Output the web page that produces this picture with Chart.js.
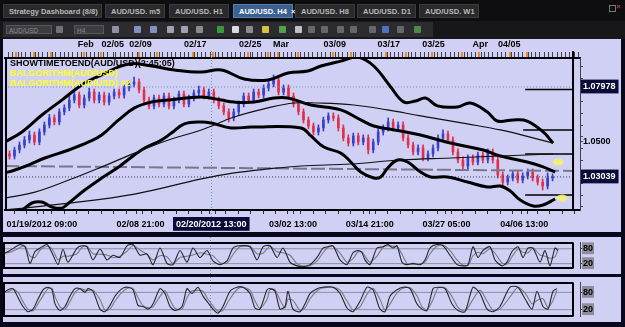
<!DOCTYPE html>
<html><head><meta charset="utf-8">
<script src="https://cdn.jsdelivr.net/npm/chart.js@4.4.1/dist/chart.umd.min.js"></script>
<style>
html,body{margin:0;padding:0;}
body{width:625px;height:327px;overflow:hidden;position:relative;background:#08081a;font-family:"Liberation Sans",Arial,sans-serif;}
#tabs{position:absolute;left:0;top:0;width:625px;height:21px;background:#0e0e10;}
.tab{position:absolute;top:4px;height:14px;background:#2a2a2d;color:#b8b8b8;font-size:7.5px;font-weight:bold;line-height:14px;box-sizing:border-box;padding-left:5px;white-space:nowrap;border:1px solid #3b3b3e;}
.tab.active{background:#3b6190;color:#fff;border-color:#5a80b0;}
#toolbar{position:absolute;left:0;top:21px;width:625px;height:18px;background:#17171a;}
#tstrip{position:absolute;left:3px;top:1px;width:430px;height:15px;background:#2c2c30;}
.sel{position:absolute;top:3px;height:9px;background:#3c3c42;border:1px solid #56565c;color:#8a8a90;font-size:6.5px;line-height:9px;padding-left:2px;box-sizing:border-box;}
.ic{position:absolute;top:4px;width:7px;height:7px;border-radius:1px;}
.lav{position:absolute;background:#d0d0f5;}
canvas{position:absolute;}
.ov{position:absolute;font-size:9px;font-weight:bold;white-space:nowrap;line-height:10px;}
</style></head>
<body>
<div id="tabs">
  <div class="tab" style="left:3px;width:99px">Strategy Dashboard (8/8)</div>
  <div class="tab" style="left:105px;width:60px">AUD/USD. m5</div>
  <div class="tab" style="left:169px;width:60px">AUD/USD. H1</div>
  <div class="tab active" style="left:233px;width:60px">AUD/USD. H4 &nbsp;×</div>
  <div class="tab" style="left:295px;width:60px">AUD/USD. H8</div>
  <div class="tab" style="left:357px;width:59px">AUD/USD. D1</div>
  <div class="tab" style="left:419px;width:60px">AUD/USD. W1</div>
  <div style="position:absolute;left:609px;top:5px;width:5px;height:5px;border:1px solid #777"></div>
  <div style="position:absolute;left:616px;top:2px;color:#c03030;font-size:8px;font-weight:bold">×</div>
</div>
<div id="toolbar"><div id="tstrip">
  <div class="sel" style="left:3px;width:46px">AUD/USD</div>
  <div class="ic" style="left:53px;background:#707078"></div>
  <div class="sel" style="left:71px;width:30px">H4</div>
  <div class="ic" style="left:109px;background:#9090a0"></div>
  <div class="ic" style="left:131px;background:#8090c0"></div>
  <div class="ic" style="left:147px;background:#8090c0"></div>
  <div class="ic" style="left:164px;background:#a0a0b0"></div>
  <div class="ic" style="left:178px;background:#a0a0b0"></div>
  <div class="ic" style="left:193px;background:#8a8a90"></div>
  <div class="ic" style="left:214px;background:#3a9a3a"></div>
  <div class="ic" style="left:229px;background:#d8d8e0"></div>
  <div class="ic" style="left:243px;background:#8a8a90"></div>
  <div class="ic" style="left:259px;background:#d8c040"></div>
  <div class="ic" style="left:276px;background:#50a050"></div>
  <div class="ic" style="left:292px;background:#c0c0c8"></div>
  <div class="ic" style="left:305px;background:#66666c"></div>
  <div class="ic" style="left:318px;background:#66666c"></div>
  <div class="ic" style="left:334px;background:#66666c"></div>
  <div class="ic" style="left:347px;background:#66666c"></div>
  <div class="ic" style="left:366px;background:#66666c"></div>
  <div class="ic" style="left:379px;background:#5070c0"></div>
  <div class="ic" style="left:394px;background:#66666c"></div>
  <div class="ic" style="left:411px;background:#4a8a4a"></div>
</div></div>

<div class="lav" style="left:3px;top:39px;width:618px;height:193px"></div>
<div class="lav" style="left:3px;top:237px;width:618px;height:37px"></div>
<div class="lav" style="left:3px;top:277px;width:618px;height:45px"></div>

<canvas id="main" width="618" height="193" style="left:3px;top:39px"></canvas>
<canvas id="osc1" width="618" height="37" style="left:3px;top:237px"></canvas>
<canvas id="osc2" width="618" height="45" style="left:3px;top:277px"></canvas>

<div class="ov" style="left:10px;top:58px;color:#000">SHOWTIMETOEND(AUD/USD)(2:45:05)</div>
<div class="ov" style="left:10px;top:68px;color:#ffff2a">BALGORITHM(AUD/USD)</div>
<div class="ov" style="left:10px;top:78px;color:#ffff2a">BALGORITHM(AUD/USD) #2</div>

<script>
// ---------------- DATA ----------------
// candles (index 0..109, 4H bars compressed)
const open = [1.0430,1.0419,1.0452,1.0479,1.0507,1.0534,1.0496,1.0551,1.0589,1.0628,
1.0606,1.0661,1.0683,1.0726,1.0754,1.0699,1.0737,1.0770,1.0726,1.0754,
1.0715,1.0748,1.0770,1.0754,1.0792,1.0814,1.0825,1.0781,1.0726,1.0694,
1.0737,1.0704,1.0748,1.0694,1.0726,1.0759,1.0704,1.0737,1.0765,1.0781,
1.0748,1.0770,1.0726,1.0694,1.0661,1.0628,1.0661,1.0704,1.0748,1.0726,
1.0770,1.0754,1.0792,1.0814,1.0836,1.0770,1.0792,1.0748,1.0704,1.0661,
1.0617,1.0584,1.0551,1.0573,1.0617,1.0639,1.0628,1.0573,1.0518,1.0490,
1.0529,1.0496,1.0518,1.0452,1.0496,1.0551,1.0573,1.0606,1.0573,1.0589,
1.0518,1.0479,1.0441,1.0463,1.0408,1.0430,1.0463,1.0518,1.0540,1.0507,
1.0441,1.0397,1.0364,1.0408,1.0386,1.0424,1.0397,1.0441,1.0397,1.0315,
1.0276,1.0298,1.0320,1.0287,1.0309,1.0331,1.0298,1.0276,1.0254,1.0298];
const high = [1.0447,1.0468,1.0496,1.0526,1.0556,1.0550,1.0568,1.0606,1.0648,1.0645,
1.0678,1.0700,1.0748,1.0776,1.0770,1.0754,1.0792,1.0787,1.0770,1.0770,
1.0765,1.0787,1.0787,1.0809,1.0831,1.0852,1.0842,1.0798,1.0743,1.0754,
1.0754,1.0765,1.0765,1.0743,1.0776,1.0776,1.0754,1.0781,1.0803,1.0798,
1.0787,1.0787,1.0743,1.0710,1.0678,1.0678,1.0721,1.0765,1.0765,1.0787,
1.0787,1.0809,1.0831,1.0864,1.0852,1.0809,1.0809,1.0765,1.0721,1.0678,
1.0633,1.0600,1.0590,1.0633,1.0656,1.0656,1.0645,1.0590,1.0535,1.0545,
1.0545,1.0535,1.0535,1.0512,1.0568,1.0590,1.0628,1.0622,1.0606,1.0606,
1.0535,1.0496,1.0480,1.0480,1.0447,1.0480,1.0535,1.0562,1.0556,1.0524,
1.0458,1.0414,1.0425,1.0425,1.0441,1.0441,1.0458,1.0458,1.0414,1.0331,
1.0315,1.0337,1.0337,1.0326,1.0348,1.0348,1.0315,1.0293,1.0326,1.0320];
const low = [1.0402,1.0402,1.0436,1.0463,1.0490,1.0480,1.0480,1.0534,1.0573,1.0590,
1.0590,1.0645,1.0667,1.0710,1.0683,1.0683,1.0721,1.0710,1.0710,1.0699,
1.0699,1.0732,1.0737,1.0737,1.0776,1.0798,1.0765,1.0710,1.0678,1.0678,
1.0688,1.0688,1.0678,1.0678,1.0710,1.0688,1.0688,1.0721,1.0748,1.0732,
1.0732,1.0710,1.0678,1.0645,1.0606,1.0612,1.0645,1.0688,1.0710,1.0710,
1.0737,1.0737,1.0776,1.0798,1.0754,1.0754,1.0732,1.0688,1.0645,1.0600,
1.0568,1.0534,1.0534,1.0556,1.0600,1.0612,1.0556,1.0502,1.0474,1.0474,
1.0480,1.0480,1.0430,1.0436,1.0480,1.0534,1.0556,1.0556,1.0556,1.0502,
1.0463,1.0425,1.0425,1.0392,1.0392,1.0414,1.0447,1.0502,1.0490,1.0425,
1.0381,1.0348,1.0348,1.0370,1.0370,1.0381,1.0381,1.0381,1.0298,1.0260,
1.0260,1.0282,1.0271,1.0271,1.0293,1.0282,1.0260,1.0232,1.0238,1.0282];
const close = [1.0419,1.0452,1.0479,1.0507,1.0534,1.0496,1.0551,1.0589,1.0628,1.0606,
1.0661,1.0683,1.0726,1.0754,1.0699,1.0737,1.0770,1.0726,1.0754,1.0715,
1.0748,1.0770,1.0754,1.0792,1.0814,1.0825,1.0781,1.0726,1.0694,1.0737,
1.0704,1.0748,1.0694,1.0726,1.0759,1.0704,1.0737,1.0765,1.0781,1.0748,
1.0770,1.0726,1.0694,1.0661,1.0628,1.0661,1.0704,1.0748,1.0726,1.0770,
1.0754,1.0792,1.0814,1.0836,1.0770,1.0792,1.0748,1.0704,1.0661,1.0617,
1.0584,1.0551,1.0573,1.0617,1.0639,1.0628,1.0573,1.0518,1.0490,1.0529,
1.0496,1.0518,1.0452,1.0496,1.0551,1.0573,1.0606,1.0573,1.0589,1.0518,
1.0479,1.0441,1.0463,1.0408,1.0430,1.0463,1.0518,1.0540,1.0507,1.0441,
1.0397,1.0364,1.0408,1.0386,1.0424,1.0397,1.0441,1.0397,1.0315,1.0276,
1.0298,1.0320,1.0287,1.0309,1.0331,1.0298,1.0276,1.0254,1.0298,1.0304];

// indicator lines (bar index, price)
const upperIdx = [-0.9,2.5,6.5,10.5,14.5,18.5,23.9,28.5,33.1,38.5,42.5,47.1,51.9,55.9,59.9,62.5,66.5,69.9,73.1,76.5,79.1,81.5,83.5,85.9,89.9,92.5,95.9,97.9,101.1,103.9,107.1,109.1];
const upperPrice = [1.0496,1.0551,1.0644,1.0726,1.0809,1.0864,1.0924,1.0913,1.0891,1.0880,1.0891,1.0842,1.0836,1.0875,1.0886,1.0913,1.0940,1.0962,1.0913,1.0798,1.0716,1.0721,1.0737,1.0694,1.0688,1.0710,1.0661,1.0611,1.0617,1.0611,1.0551,1.0490];
const lowerIdx = [-0.5,2.5,4.5,6.5,8.5,10.5,11.9,15.1,18.5,21.9,26.5,30.5,32.5,35.1,38.5,40.5,44.5,48.5,58.5,60.5,63.1,66.5,68.5,70.5,73.1,74.5,75.9,77.9,79.9,82.5,84.5,87.9,91.9,95.9,98.5,100.5,102.5,105.1,107.1,109.5];
const lowerPrice = [1.0106,1.0123,1.0161,1.0166,1.0139,1.0133,1.0161,1.0232,1.0298,1.0359,1.0452,1.0507,1.0545,1.0595,1.0606,1.0600,1.0573,1.0578,1.0573,1.0529,1.0468,1.0435,1.0386,1.0331,1.0298,1.0304,1.0353,1.0397,1.0386,1.0331,1.0304,1.0304,1.0276,1.0249,1.0254,1.0227,1.0177,1.0144,1.0150,1.0183];
const midIdx = [-0.9,1.1,3.9,7.1,11.9,15.9,18.5,21.9,25.1,28.5,31.9,38.5,42.5,45.1,49.1,53.1,55.9,60.5,66.5,70.5,73.1,78.5,82.5,88.5,95.1,98.5,103.9,107.1,109.5];
const midPrice = [1.0326,1.0342,1.0370,1.0408,1.0452,1.0496,1.0534,1.0617,1.0683,1.0715,1.0726,1.0743,1.0726,1.0715,1.0715,1.0737,1.0737,1.0699,1.0672,1.0617,1.0584,1.0556,1.0534,1.0490,1.0452,1.0419,1.0386,1.0359,1.0331];
const ma1Idx = [-0.9,5.1,11.9,18.5,25.1,31.9,38.5,45.1,51.9,57.1,61.9,69.1,75.9,82.5,91.9,98.5,104.5,109.1];
const ma1Price = [1.0188,1.0221,1.0287,1.0359,1.0435,1.0507,1.0562,1.0633,1.0683,1.0710,1.0710,1.0699,1.0672,1.0639,1.0595,1.0562,1.0523,1.0490];
const ma2Idx = [-0.9,11.9,25.1,38.5,45.1,51.9,58.5,68.5,78.5,88.5,98.5,109.1];
const ma2Price = [1.0123,1.0160,1.0210,1.0293,1.0326,1.0348,1.0364,1.0375,1.0397,1.0408,1.0419,1.0430];
const trendIdx = [-0.9,113.1];
const trendPrice = [1.0364,1.0337];
const levelPrices = [1.0784,1.0562,1.0430,1.0205];
const levelFrom = [103.5,103.1,103.5,103.5];
const markerIdx = [110.1,110.9];
const markerPrice = [1.0386,1.0188];
const lastPrice = 1.03039;
const crossPrice = 1.07978;
const crossIdx = 40.5;

// axis labels
const topLabelIdx = [15.3,20.7,26.3,37.3,48.3,54.5,65.3,76.1,85.1,94.5,100.3];
const topLabels = ['Feb','02/05','02/09','02/17','02/25','Mar','03/09','03/17','03/25','Apr','04/05'];
const topOrangeIdx = [1.5,5.1,8.5,14.9,18.5,26.1,29.9,37.1,41.1,48.1,52.1,54.1,57.9,65.1,68.9,75.9,79.9,85.1,91.1,94.5,100.5,104.1];
const bottomLabelIdx = [6.5,26.3,40.5,56.9,72.3,87.7,103.3];
const bottomLabels = ['01/19/2012 09:00','02/08 21:00','02/20/2012 13:00','03/02 13:00','03/14 21:00','03/27 05:00','04/06 13:00'];
const priceLabelVals = [1.07978,1.0500,1.03039];
const priceLabelTexts = ['1.07978','1.0500','1.03039'];
const priceLabelBoxed = [true,false,true];

// oscillators
const osc1Idx = [-0.9,0.5,2.5,3.5,4.5,5.5,6.5,7.9,8.9,10.1,11.1,12.1,13.9,14.9,15.9,17.1,18.5,19.9,21.1,22.5,23.9,25.1,26.5,27.9,29.1,30.5,31.9,33.1,34.5,35.9,37.1,38.5,39.9,41.1,42.5,43.9,45.1,46.5,48.5,49.9,51.1,52.5,53.9,55.1,56.5,57.9,59.1,60.5,61.9,63.1,64.1,65.1,66.5,67.9,69.1,70.1,70.9,71.5,72.5,73.9,75.1,76.1,77.1,77.9,78.9,79.9,81.1,82.5,83.5,84.5,85.9,87.1,88.5,89.9,91.1,92.1,93.1,94.1,95.1,96.5,97.5,98.9,99.9,100.9,102.1,103.1,104.1,105.1,106.5,107.5,108.5,109.5,110.1];
const osc1K = [59,73,97,88,21,69,83,97,64,16,78,26,83,92,88,35,78,35,54,45,92,97,54,59,16,83,21,16,73,26,83,45,73,31,16,31,83,92,88,35,88,92,45,83,26,11,8,16,45,83,88,92,35,16,64,73,64,35,16,83,88,97,83,92,26,16,21,16,35,83,97,92,54,16,11,16,88,45,73,88,35,11,26,69,88,45,83,83,26,73,11,83,73];
const osc1D = [62,66,85,92,50,45,75,90,80,35,50,50,60,86,90,60,58,55,45,50,70,93,75,57,35,52,48,20,45,50,55,64,58,52,24,22,57,88,90,60,62,90,68,64,54,20,10,12,30,64,86,90,62,26,40,68,68,50,26,50,86,92,90,88,58,21,18,18,26,60,90,95,73,35,14,13,52,66,60,80,62,23,18,48,78,66,64,83,55,50,42,47,78];
const osc2Idx = [-0.9,0.1,1.1,2.1,3.1,4.1,5.1,5.9,7.1,8.1,8.9,9.5,10.5,11.5,12.5,13.5,14.5,15.5,16.1,17.1,18.5,19.5,20.5,21.5,22.9,24.1,25.1,26.1,27.1,28.1,29.1,30.5,31.5,32.5,33.5,34.9,35.9,36.9,38.1,39.1,40.1,41.1,42.1,43.1,44.5,45.9,47.1,48.5,49.5,50.5,51.9,52.5,53.5,54.5,55.5,56.1,57.1,58.5,59.5,60.5,61.9,63.1,65.1,66.5,67.9,69.1,70.5,71.9,73.1,74.5,75.5,76.5,77.9,79.1,80.5,81.9,82.9,83.9,85.1,86.1,87.5,88.9,90.1,91.5,93.1,94.5,95.9,97.1,98.5,100.5,102.1,103.5,104.9,105.9,107.1,108.1,109.1,109.9];
const osc2K = [76,89,93,62,31,13,22,49,89,98,89,40,17,31,67,93,93,80,93,84,22,13,35,67,93,98,89,35,31,22,40,93,76,31,17,31,93,76,98,67,44,22,8,31,84,98,98,76,26,22,89,93,84,22,31,84,22,13,40,76,93,98,98,76,26,13,49,98,89,22,13,67,89,98,93,40,22,17,93,98,93,40,17,13,98,76,22,13,31,98,98,58,22,84,31,22,84,93];
const osc2D = [80,82,90,80,48,22,16,35,68,93,94,66,30,22,48,80,93,88,86,88,55,18,22,50,80,95,94,62,34,27,30,66,86,54,24,22,62,86,87,84,56,33,15,18,58,90,98,88,50,25,55,90,89,54,26,56,52,18,26,58,85,95,98,88,50,20,30,74,94,56,18,40,78,94,96,68,30,20,55,96,96,66,28,15,56,88,50,18,22,64,98,78,40,52,58,27,52,88];
const oscLevels = [80,20];

// ---------------- CHARTS ----------------
Chart.defaults.font.family = '"Liberation Sans", Arial, sans-serif';
Chart.defaults.font.size = 9;
Chart.defaults.font.weight = 'bold';
Chart.defaults.color = '#000';
Chart.defaults.animation = false;

const X_MIN = -0.9, X_MAX = 114.5, PLOT_END = 113.1;
const Y_MIN = 1.01225, Y_MAX = 1.09570;
const UP = '#3a40c8', DOWN = '#e2304a';
const NAVY = '#0b0b3a';

function pts(xs, ys){ return xs.map((x,i)=>({x:x, y:ys[i]})); }
function lineDS(xs, ys, o){
  return Object.assign({type:'line', data:pts(xs,ys), pointRadius:0, borderWidth:1, borderColor:'#000',
    fill:false, tension:0.4, order:1}, o);
}

const framePlugin = {
  id:'frame',
  afterDatasetsDraw(chart, args, opts){
    const {ctx, chartArea:a} = chart;
    const r = chart.scales.x.getPixelForValue(PLOT_END);
    ctx.save();
    ctx.strokeStyle = '#000'; ctx.lineWidth = opts.w || 2;
    ctx.beginPath();
    ctx.moveTo(a.left+1, a.top); ctx.lineTo(a.left+1, a.bottom);
    ctx.moveTo(r, opts.fromTop ? 12 : a.top); ctx.lineTo(r, a.bottom);
    if (opts.box) { ctx.moveTo(a.left, a.top+0.5); ctx.lineTo(r, a.top+0.5); ctx.moveTo(a.left, a.bottom-0.5); ctx.lineTo(r, a.bottom-0.5); }
    ctx.stroke();
    ctx.restore();
  }
};
const crossPlugin = {
  id:'cross',
  beforeDatasetsDraw(chart, args, opts){
    const {ctx} = chart;
    const x = Math.round(chart.scales.x.getPixelForValue(crossIdx)) + 0.5;
    ctx.save();
    ctx.strokeStyle = '#6f92b8'; ctx.lineWidth = 1; ctx.setLineDash([1,2]);
    ctx.beginPath(); ctx.moveTo(x, opts.y0 || 0); ctx.lineTo(x, opts.y1 || chart.height); ctx.stroke();
    ctx.restore();
  }
};

// yellow ellipse marker
const ell = document.createElement('canvas');
ell.width = 12; ell.height = 8;
(function(){ const c = ell.getContext('2d'); c.fillStyle = '#f0ee7c'; c.beginPath(); c.ellipse(6,4,5.5,3.5,0,0,Math.PI*2); c.fill(); })();

const candleColor = close.map((c,i)=> c >= open[i] ? UP : DOWN);

// tick lists for axes (decorative minor ticks + labelled ticks)
function topTicks(){
  const t = [];
  for (let v = X_MIN + 0.3; v < X_MAX; v += 0.86) t.push({value:v, kind:'minor'});
  topOrangeIdx.forEach(v => t.push({value:v, kind:'orange'}));
  topLabelIdx.forEach((v,i) => t.push({value:v, kind:'label', text:topLabels[i]}));
  return t.sort((a,b)=>a.value-b.value);
}
function bottomTicks(){
  const t = [];
  for (let v = X_MIN + 0.6; v < X_MAX; v += 2.5) t.push({value:v, kind:'minor'});
  bottomLabelIdx.forEach((v,i) => t.push({value:v, kind:'label', text:bottomLabels[i], hl: v === crossIdx}));
  return t.sort((a,b)=>a.value-b.value);
}
function rightTicks(){
  const t = [];
  for (let v = 1.0140; v < Y_MAX; v += 0.0064) t.push({value:v, kind:'minor'});
  priceLabelVals.forEach((v,i) => t.push({value:v, kind:'label', text:priceLabelTexts[i], hl:priceLabelBoxed[i]}));
  return t.sort((a,b)=>a.value-b.value);
}
const tk = (ctx) => (ctx && ctx.tick) ? ctx.tick : {};

new Chart(document.getElementById('main'), {
  type:'bar',
  data:{ datasets:[
    {type:'bar', data: close.map((c,i)=>({x:i, y:[low[i], high[i]]})), backgroundColor:candleColor, barThickness:1, grouped:false, order:20},
    {type:'bar', data: close.map((c,i)=>({x:i, y:[open[i], c]})), backgroundColor:candleColor, barThickness:2, grouped:false, order:19},
    lineDS(trendIdx, trendPrice, {borderColor:'#78788c', borderWidth:2, borderDash:[14,4], tension:0, order:15}),
    lineDS([X_MIN, PLOT_END], [lastPrice, lastPrice], {borderColor:'#35355a', borderDash:[1,2], tension:0, order:14}),
    lineDS([X_MIN, PLOT_END], [crossPrice, crossPrice], {borderColor:'#6f92b8', borderDash:[1,2], tension:0, order:14}),
    lineDS(ma2Idx, ma2Price, {borderWidth:1.2, borderColor:'#111'}),
    lineDS(ma1Idx, ma1Price, {borderWidth:1.2, borderColor:'#111'}),
    lineDS(midIdx, midPrice, {borderWidth:3}),
    lineDS(upperIdx, upperPrice, {borderWidth:3}),
    lineDS(lowerIdx, lowerPrice, {borderWidth:3}),
    ...levelPrices.map((p,i) => lineDS([levelFrom[i], PLOT_END], [p,p], {borderWidth:1.5, tension:0})),
    {type:'line', showLine:false, data:pts(markerIdx, markerPrice), pointStyle:ell, pointRadius:6, order:0}
  ]},
  options:{
    responsive:false, devicePixelRatio:1, animation:false,
    layout:{padding:0, autoPadding:false},
    plugins:{legend:{display:false}, tooltip:{enabled:false},
      frame:{w:2, fromTop:true}, cross:{y0:12, y1:180}},
    scales:{
      x:{type:'linear', position:'bottom', min:X_MIN, max:X_MAX, offset:false,
        grid:{drawOnChartArea:false, drawTicks:true, tickLength:4, color:'#303040'},
        border:{display:true, color:'#000', width:2},
        ticks:{autoSkip:false, maxRotation:0, minRotation:0, padding:5,
          callback:(v,i,t)=> t[i].kind === 'label' ? t[i].text : '',
          color:(ctx)=> tk(ctx).hl ? '#ffffff' : '#000000',
          showLabelBackdrop:(ctx)=> !!tk(ctx).hl,
          backdropColor:NAVY, backdropPadding:{top:2, bottom:1, left:3, right:3}},
        afterBuildTicks:(ax)=>{ ax.ticks = bottomTicks(); },
        afterFit:(ax)=>{ ax.height = 22; }
      },
      xTop:{type:'linear', axis:'x', position:'top', min:X_MIN, max:X_MAX, offset:false,
        grid:{drawOnChartArea:false, drawTicks:true, tickLength:6,
          color:(ctx)=> tk(ctx).kind === 'orange' ? '#f08a20' : (tk(ctx).kind === 'label' ? 'rgba(0,0,0,0)' : '#404050'),
          lineWidth:(ctx)=> tk(ctx).kind === 'orange' ? 2 : 1},
        border:{display:true, color:'#000', width:2},
        ticks:{autoSkip:false, maxRotation:0, minRotation:0, padding:2,
          callback:(v,i,t)=> t[i].kind === 'label' ? t[i].text : ''},
        afterBuildTicks:(ax)=>{ ax.ticks = topTicks(); },
        afterFit:(ax)=>{ ax.height = 19; }
      },
      y:{type:'linear', position:'right', min:Y_MIN, max:Y_MAX,
        grid:{drawOnChartArea:false, drawTicks:true, tickLength:3, color:'#404050'},
        border:{display:true, color:'#404050', width:1},
        ticks:{autoSkip:false, padding:0,
          callback:(v,i,t)=> t[i].kind === 'label' ? t[i].text : '',
          color:(ctx)=> tk(ctx).hl ? '#ffffff' : '#000000',
          showLabelBackdrop:(ctx)=> !!tk(ctx).hl,
          backdropColor:NAVY, backdropPadding:{top:2, bottom:1, left:2, right:3}},
        afterBuildTicks:(ax)=>{ ax.ticks = rightTicks(); },
        afterFit:(ax)=>{ ax.width = 41; }
      }
    }
  },
  plugins:[framePlugin, crossPlugin]
});

function oscChart(id, xs, k, d, yMin, yMax){
  return new Chart(document.getElementById(id), {
    type:'line',
    data:{ datasets:[
      ...oscLevels.map(l => lineDS([X_MIN, PLOT_END], [l,l], {borderColor:'#8e8ea4', tension:0, order:5})),
      lineDS(xs, d, {borderColor:'#7a7a86', borderWidth:1.1, tension:0.25, order:2}),
      lineDS(xs, k, {borderColor:'#26262e', borderWidth:1.1, tension:0.25, order:1})
    ]},
    options:{
      responsive:false, devicePixelRatio:1, animation:false,
      layout:{padding:0, autoPadding:false},
      plugins:{legend:{display:false}, tooltip:{enabled:false}, frame:{w:2, box:true}, cross:{}},
      scales:{
        x:{type:'linear', min:X_MIN, max:X_MAX, display:false},
        y:{type:'linear', position:'right', min:yMin, max:yMax,
          grid:{drawOnChartArea:false, drawTicks:true, tickLength:3, color:'#404050'},
          border:{display:true, color:'#404050', width:1},
          ticks:{autoSkip:false, padding:0, color:'#000',
            showLabelBackdrop:true, backdropColor:'#8e8e9a', backdropPadding:{top:1, bottom:0, left:1, right:1}},
          afterBuildTicks:(ax)=>{ ax.ticks = oscLevels.map(v=>({value:v})); },
          afterFit:(ax)=>{ ax.width = 41; }
        }
      }
    },
    plugins:[framePlugin, crossPlugin]
  });
}
oscChart('osc1', osc1Idx, osc1K, osc1D, 0, 105.7);
oscChart('osc2', osc2Idx, osc2K, osc2D, -4, 114.7);
</script>
</body></html>
